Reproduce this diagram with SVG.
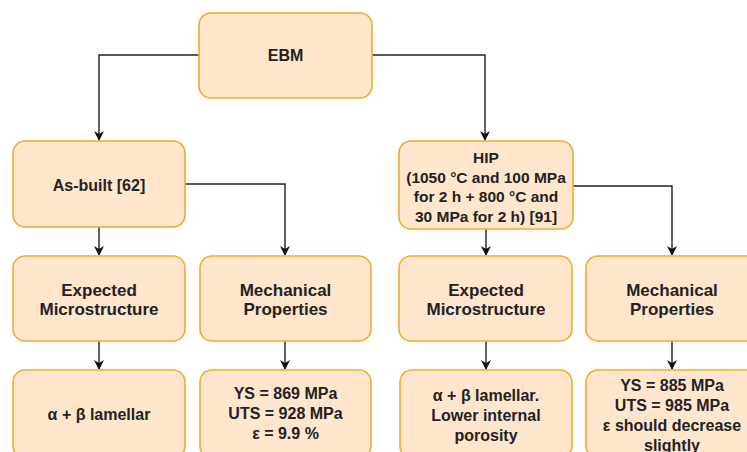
<svg xmlns="http://www.w3.org/2000/svg" width="747" height="452" viewBox="0 0 747 452">
<style>
.box{fill:#ffe6cc;stroke:#f0ab30;stroke-width:1.6}
.t{font-family:"Liberation Sans",Arial,sans-serif;font-size:16px;font-weight:bold;fill:#222;text-anchor:middle;dominant-baseline:central}
.s{font-size:15.5px}
.l{font-size:17px}
.c{fill:none;stroke:#222;stroke-width:1.4}
</style>
<defs>
<marker id="a" viewBox="0 0 10 10" refX="9" refY="5" markerWidth="10" markerHeight="10" markerUnits="userSpaceOnUse" orient="auto">
<path d="M0,0 L10,5 L0,10 L3,5 Z" fill="#111"/>
</marker>
</defs>
<rect width="747" height="452" fill="#fff"/>
<g id="connectors">
<path class="c" d="M199,55 H99 V140" marker-end="url(#a)"/>
<path class="c" d="M372,55 H485 V140" marker-end="url(#a)"/>
<path class="c" d="M99,227 V255" marker-end="url(#a)"/>
<path class="c" d="M185,184 H285 V255" marker-end="url(#a)"/>
<path class="c" d="M486,229 V255" marker-end="url(#a)"/>
<path class="c" d="M573,186 H672 V255" marker-end="url(#a)"/>
<path class="c" d="M99,341 V369" marker-end="url(#a)"/>
<path class="c" d="M285,341 V369" marker-end="url(#a)"/>
<path class="c" d="M486,341 V369" marker-end="url(#a)"/>
<path class="c" d="M672,341 V369" marker-end="url(#a)"/>
</g>
<g id="ebm"><rect class="box" x="199" y="13" width="173" height="85" rx="12"/><text class="t" x="285.5" y="55">EBM</text></g>
<g id="asbuilt"><rect class="box" x="13" y="141" width="172" height="86" rx="12"/><text class="t" x="99" y="185">As-built [62]</text></g>
<g id="hip"><rect class="box" x="399" y="141" width="174" height="88" rx="12"/>
<text class="t s" x="486" y="157">HIP</text>
<text class="t s" x="486" y="177">(1050 °C and 100 MPa</text>
<text class="t s" x="486" y="196.5">for 2 h + 800 °C and</text>
<text class="t s" x="486" y="216">30 MPa for 2 h) [91]</text></g>
<g id="micro1"><rect class="box" x="13" y="256" width="172" height="85" rx="12"/>
<text class="t l" x="99" y="290">Expected</text><text class="t l" x="99" y="309.5">Microstructure</text></g>
<g id="mech1"><rect class="box" x="200" y="256" width="171" height="85" rx="12"/>
<text class="t l" x="285.5" y="290">Mechanical</text><text class="t l" x="285.5" y="309.5">Properties</text></g>
<g id="micro2"><rect class="box" x="399" y="256" width="173" height="85" rx="12"/>
<text class="t l" x="486" y="290">Expected</text><text class="t l" x="486" y="309.5">Microstructure</text></g>
<g id="mech2"><rect class="box" x="586" y="256" width="172" height="85" rx="12"/>
<text class="t l" x="672" y="290">Mechanical</text><text class="t l" x="672" y="309.5">Properties</text></g>
<g id="res1"><rect class="box" x="13" y="370" width="172" height="88" rx="12"/>
<text class="t" x="99" y="414">α + β lamellar</text></g>
<g id="res2"><rect class="box" x="200" y="370" width="171" height="88" rx="12"/>
<text class="t" x="285.5" y="393">YS = 869 MPa</text><text class="t" x="285.5" y="413">UTS = 928 MPa</text><text class="t" x="285.5" y="433">ε = 9.9 %</text></g>
<g id="res3"><rect class="box" x="400" y="370" width="172" height="88" rx="12"/>
<text class="t" x="486" y="395">α + β lamellar.</text><text class="t" x="486" y="415">Lower internal</text><text class="t" x="486" y="435">porosity</text></g>
<g id="res4"><rect class="box" x="586" y="370" width="172" height="88" rx="12"/>
<text class="t" x="672" y="385">YS = 885 MPa</text><text class="t" x="672" y="405">UTS = 985 MPa</text><text class="t" x="672" y="425">ε should decrease</text><text class="t" x="672" y="445">slightly</text></g>
</svg>
